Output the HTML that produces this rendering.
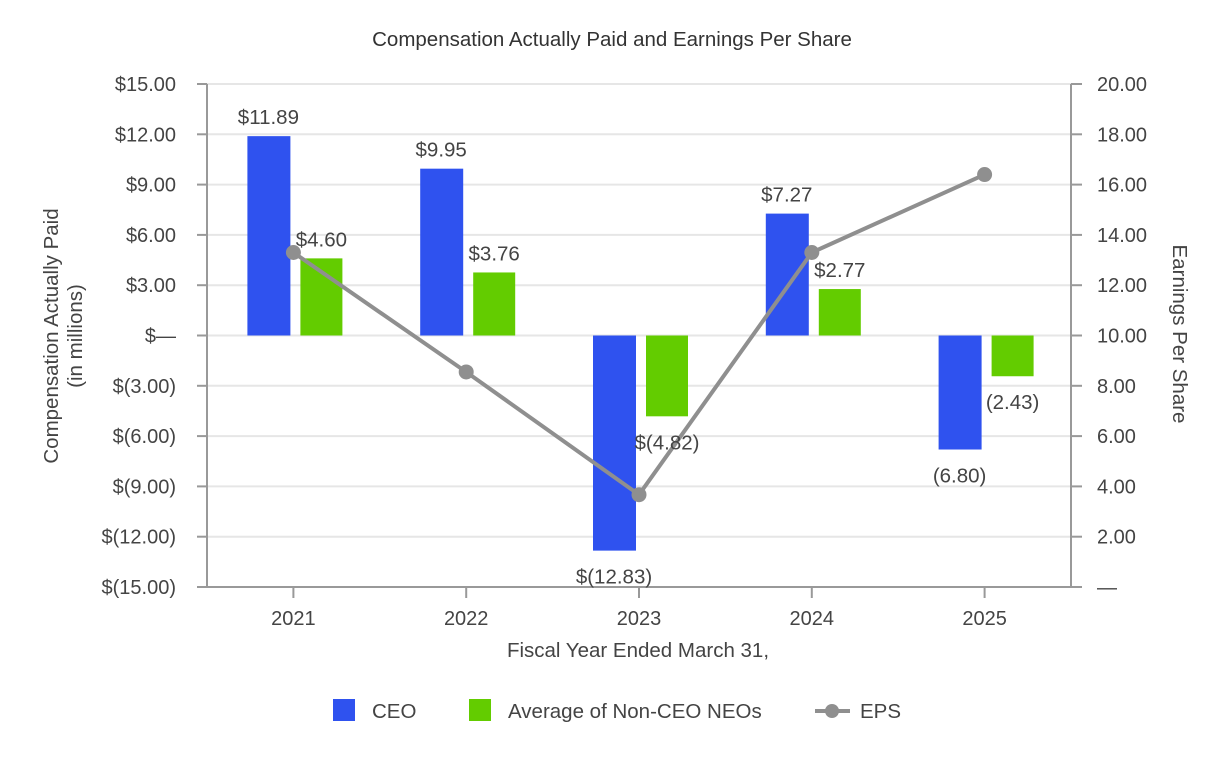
<!DOCTYPE html>
<html><head><meta charset="utf-8"><style>
body{margin:0;background:#fff;}
svg{display:block;font-family:"Liberation Sans",Arial,sans-serif;}
</style></head><body>
<svg id="chart" width="1226" height="760" viewBox="0 0 1226 760" xmlns="http://www.w3.org/2000/svg">
<text x="612" y="46" text-anchor="middle" font-size="20.5" fill="#333">Compensation Actually Paid and Earnings Per Share</text>
<g id="grid"></g><g id="bars"></g><g id="axes"></g><g id="line"></g><g id="labels"></g>
<text transform="translate(58,336) rotate(-90)" text-anchor="middle" font-size="20.5" fill="#444">Compensation Actually Paid</text>
<text transform="translate(82,336) rotate(-90)" text-anchor="middle" font-size="20.5" fill="#444">(in millions)</text>
<text transform="translate(1173,334) rotate(90)" text-anchor="middle" font-size="20.5" fill="#444">Earnings Per Share</text>
<text x="638" y="657" text-anchor="middle" font-size="20.5" fill="#444">Fiscal Year Ended March 31,</text>
<g>
<rect x="333" y="699" width="22" height="22" fill="#2f52ef"/>
<text x="372" y="718" font-size="20.5" fill="#444">CEO</text>
<rect x="469" y="699" width="22" height="22" fill="#63cc00"/>
<text x="508" y="718" font-size="20.5" fill="#444">Average of Non-CEO NEOs</text>
<line x1="815" y1="711" x2="850" y2="711" stroke="#8f8f8f" stroke-width="4"/>
<circle cx="832" cy="711" r="7" fill="#8f8f8f"/>
<text x="860" y="718" font-size="20.5" fill="#444">EPS</text>
</g>
</svg>
<script>
const years=["2021","2022","2023","2024","2025"];
const ceo=[11.89,9.95,-12.83,7.27,-6.80];
const neo=[4.60,3.76,-4.82,2.77,-2.43];
const eps=[13.3,8.55,3.67,13.3,16.4];
const ceoLabels=["$11.89","$9.95","$(12.83)","$7.27","(6.80)"];
const neoLabels=["$4.60","$3.76","$(4.82)","$2.77","(2.43)"];
const leftTicks=[15,12,9,6,3,0,-3,-6,-9,-12,-15];
const leftTickLabels=["$15.00","$12.00","$9.00","$6.00","$3.00","$—","$(3.00)","$(6.00)","$(9.00)","$(12.00)","$(15.00)"];
const rightTicks=[20,18,16,14,12,10,8,6,4,2,0];
const rightTickLabels=["20.00","18.00","16.00","14.00","12.00","10.00","8.00","6.00","4.00","2.00","—"];

const NS="http://www.w3.org/2000/svg";
const L=207,R=1071,T=84,B=587;
const yL=v=>T+(15-v)/30*(B-T);
const yR=v=>T+(20-v)/20*(B-T);
const bw=(R-L)/years.length;
const xC=i=>L+bw*(i+0.5);
function mk(p,tag,a){const e=document.createElementNS(NS,tag);for(const k in a)e.setAttribute(k,a[k]);document.getElementById(p).appendChild(e);return e;}
leftTicks.forEach((v,i)=>{
 const g=mk("grid","line",{x1:L,x2:R,y1:yL(v),y2:yL(v),stroke:"#e6e6e6","stroke-width":2});
 
 
 const t=mk("axes","line",{x1:L-10,x2:L,y1:yL(v),y2:yL(v),stroke:"#999","stroke-width":2});
 
 
 const tx=mk("axes","text",{x:176,y:yL(v)+7,"text-anchor":"end","font-size":20,fill:"#444"});
 tx.textContent=leftTickLabels[i];
 
 
});
rightTicks.forEach((v,i)=>{
 const t=mk("axes","line",{x1:R,x2:R+11,y1:yR(v),y2:yR(v),stroke:"#999","stroke-width":2});
 
 
 const tx=mk("axes","text",{x:1097,y:yR(v)+7,"font-size":20,fill:"#444"});
 tx.textContent=rightTickLabels[i];
 
 
});
[[L,T,L,B],[R,T,R,B],[L-10,B,R+11,B]].forEach(a=>{
 const l=mk("axes","line",{x1:a[0],y1:a[1],x2:a[2],y2:a[3],stroke:"#999","stroke-width":2});
 
 
});
years.forEach((y,i)=>{
 const t=mk("axes","line",{x1:xC(i),x2:xC(i),y1:B,y2:B+11,stroke:"#999","stroke-width":2});
 
 
 const tx=mk("axes","text",{x:xC(i),y:625,"text-anchor":"middle","font-size":20,fill:"#444"});
 tx.textContent=y;
 
 
 const z=yL(0);
 const b1=mk("bars","rect",{x:xC(i)-46,width:43,y:Math.min(z,yL(ceo[i])),height:Math.abs(yL(ceo[i])-z),fill:"#2f52ef"});
 
 
 const b2=mk("bars","rect",{x:xC(i)+7,width:42,y:Math.min(z,yL(neo[i])),height:Math.abs(yL(neo[i])-z),fill:"#63cc00"});
 
 
 const l1=mk("labels","text",{x:xC(i)-25,y:ceo[i]>=0?yL(ceo[i])-12:yL(ceo[i])+33,"text-anchor":"middle","font-size":20.5,fill:"#444"});
 l1.textContent=ceoLabels[i];
 
 
 const l2=mk("labels","text",{x:xC(i)+28,y:neo[i]>=0?yL(neo[i])-12:yL(neo[i])+33,"text-anchor":"middle","font-size":20.5,fill:"#444"});
 l2.textContent=neoLabels[i];
 
 
});
const pl=mk("line","polyline",{points:eps.map((v,i)=>xC(i)+","+yR(v)).join(" "),fill:"none",stroke:"#8f8f8f","stroke-width":4});


eps.forEach((v,i)=>{
 const c=mk("line","circle",{cx:xC(i),cy:yR(v),r:7.5,fill:"#8f8f8f"});
 
 
});
</script>
</body></html>
